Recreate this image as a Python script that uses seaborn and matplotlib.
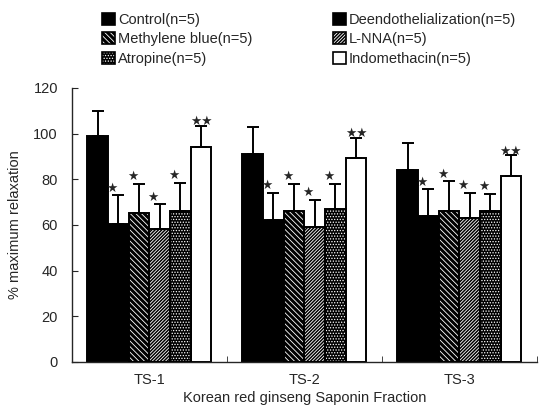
import numpy as np
import pandas as pd
import matplotlib
matplotlib.use("Agg")
import matplotlib.pyplot as plt
import seaborn as sns
from matplotlib.patches import Patch, Rectangle

# values
fractions = ["TS-1", "TS-2", "TS-3"]
groups = ["Control(n=5)", "Deendothelialization(n=5)", "Methylene blue(n=5)",
          "L-NNA(n=5)", "Atropine(n=5)", "Indomethacin(n=5)"]
control = [99, 91, 84]
deendo = [60.5, 62, 64]
methylene = [65, 66, 66]
lnna = [58, 59, 63]
atropine = [66, 67, 66]
indometh = [94, 89.5, 81.5]
# upper end of error bars
control_top = [110, 103, 96]
deendo_top = [73, 74, 75.5]
methylene_top = [78, 78, 79]
lnna_top = [69, 71, 74]
atropine_top = [78.5, 78, 73.5]
indometh_top = [103.5, 98, 90.5]
marks = ["", "*", "*", "*", "*", "**"]

means = [control, deendo, methylene, lnna, atropine, indometh]
tops = [control_top, deendo_top, methylene_top, lnna_top, atropine_top, indometh_top]

rows = []
for g, vals, ups in zip(groups, means, tops):
    for f, v, u in zip(fractions, vals, ups):
        rows.append({"fraction": f, "group": g, "value": v, "top": u})
df = pd.DataFrame(rows)

sns.set_style("ticks")
plt.rcParams["font.family"] = ["Liberation Sans", "DejaVu Sans"]
plt.rcParams["hatch.linewidth"] = 0.6

styles = {
    groups[0]: dict(fc="black", hatch=None),
    groups[1]: dict(fc="black", hatch=None),
    groups[2]: dict(fc="black", hatch="\\\\\\\\\\\\"),
    groups[3]: dict(fc="black", hatch="//////////"),
    groups[4]: dict(fc="black", hatch="......"),
    groups[5]: dict(fc="white", hatch=None),
}

fig = plt.figure(figsize=(5.4, 4.07), dpi=100)
ax = fig.add_axes([0.133, 0.111, 0.861, 0.673])

sns.barplot(data=df, x="fraction", y="value", hue="group", order=fractions,
            hue_order=groups, errorbar=None, width=0.8, ax=ax,
            edgecolor="black", linewidth=1.4, legend=False)

for g, cont in zip(groups, ax.containers):
    st = styles[g]
    sub = df[df["group"] == g].set_index("fraction").loc[fractions]
    for bar, (_, r) in zip(cont.patches, sub.iterrows()):
        bar.set_facecolor(st["fc"])
        if st["hatch"]:
            bar.set_hatch(st["hatch"])
            bar.set_edgecolor("white")
            bar.set_linewidth(0)
            ax.add_patch(Rectangle(bar.get_xy(), bar.get_width(), bar.get_height(),
                                   fill=False, edgecolor="black", linewidth=1.4, zorder=3))
        xc = bar.get_x() + bar.get_width() / 2
        ax.errorbar(xc, r["value"], yerr=[[0], [r["top"] - r["value"]]], fmt="none",
                    ecolor="black", elinewidth=1.4, capsize=4, capthick=1.4, zorder=4)
        m = marks[groups.index(g)]
        if m == "*":
            ax.text(xc - bar.get_width() * 0.32, r["top"] + 0.3, "★", ha="center",
                    va="bottom", fontsize=9, family="DejaVu Sans")
        elif m == "**":
            ax.text(xc, r["top"] - 1.0, "★★", ha="center", va="bottom",
                    fontsize=9, family="DejaVu Sans")

ax.set_xlim(-0.5, 2.5)
ax.set_ylim(0, 120)
ax.set_yticks(np.arange(0, 121, 20))
ax.set_xticks([-0.5, 0.5, 1.5, 2.5], minor=True)
ax.tick_params(axis="x", which="major", length=0, pad=8, labelsize=10.5)
ax.tick_params(axis="x", which="minor", direction="in", length=4)
ax.tick_params(axis="y", direction="in", length=4, labelsize=10.5, pad=10)
ax.set_xlabel("Korean red ginseng Saponin Fraction", fontsize=10.5, labelpad=3)
ax.set_ylabel("% maximum relaxation", fontsize=10.5, labelpad=8)
sns.despine(ax=ax)
for s in ["left", "bottom"]:
    ax.spines[s].set_linewidth(1.0)

# legend in column order; hatched keys are a fill patch with an outline on top
order = [0, 2, 4, 1, 3, 5]
handles = []
for i in order:
    st = styles[groups[i]]
    if st["hatch"]:
        fill = Patch(facecolor=st["fc"], edgecolor="white", hatch=st["hatch"], linewidth=0)
        outline = Patch(facecolor="none", edgecolor="black", linewidth=1.2)
        handles.append((fill, outline))
    else:
        handles.append(Patch(facecolor=st["fc"], edgecolor="black", linewidth=1.2))
fig.legend(handles=handles, labels=[groups[i] for i in order], ncol=2,
           loc="upper left", bbox_to_anchor=(0.165, 1.0),
           frameon=False, fontsize=10.5, handlelength=0.9, handleheight=0.9,
           handletextpad=0.2, columnspacing=5.5, labelspacing=0.35)

fig.savefig("out.png", dpi=100)
